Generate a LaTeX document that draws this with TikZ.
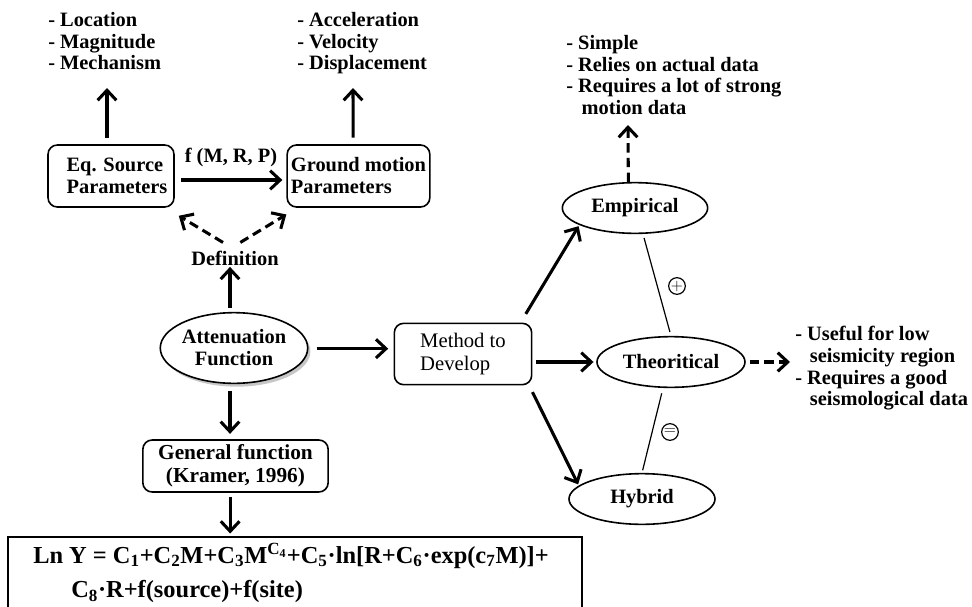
\documentclass[tikz,border=0pt]{standalone}
\usepackage{fontspec}
\setmainfont{Liberation Serif}
\usetikzlibrary{arrows.meta,shapes.geometric,shadows}
\begin{document}
\begin{tikzpicture}[x=0.75pt,y=-0.75pt,
  lbl/.style={font=\bfseries\fontsize{15.3}{16.3}\selectfont, align=left, inner sep=0pt},
  rbox/.style={draw, line width=1.2pt, rounded corners=7pt, inner sep=0pt, align=left},
  ell/.style={ellipse, draw, line width=1.2pt, inner sep=0pt, align=center, font=\bfseries\fontsize{15.3}{16.5}\selectfont},
  arr/.style={line width=2.3pt, -{Straight Barb[length=7.5pt,width=14pt,line width=2.3pt]}},
  darr/.style={arr, dash pattern=on 7pt off 4pt},
  thinl/.style={line width=0.9pt},
  sym/.style={circle, draw, line width=0.9pt, inner sep=0pt, minimum size=12.5pt, font=\fontsize{12}{12}\selectfont}]
\useasboundingbox (0,0) rectangle (972,607);
\fill[white] (0,0) rectangle (972,607);

% top lists
\node[lbl, anchor=north west] (lst1) at (48,12) {- Location\\- Magnitude\\- Mechanism};
\node[lbl, anchor=north west] (lst2) at (297,12) {- Acceleration\\- Velocity\\- Displacement};
\node[lbl, anchor=north west] (lst3) at (566,35) {- Simple\\- Relies on actual data\\- Requires a lot of strong\\\hspace*{11.5pt}motion data};
\node[lbl, anchor=north west] (lst4) at (795,326) {- Useful for low\\\hspace*{11pt}seismicity region\\- Requires a good\\\hspace*{11pt}seismological data};

% boxes
\node[rbox, minimum width=94.5pt, minimum height=46.5pt, font=\bfseries\fontsize{15.3}{16.5}\selectfont] (eq) at (111,176) {\hspace*{9pt}Eq. Source\\\hspace*{9pt}Parameters};
\node[rbox, minimum width=107pt, minimum height=46.5pt, font=\bfseries\fontsize{15.3}{16.5}\selectfont] (gm) at (358.5,176) {Ground motion\\Parameters};
\node[lbl] (fmrp) at (231,157) {f (M, R, P)};
\node[lbl] (def) at (235,258) {Definition};

\node[ell, minimum width=109pt, minimum height=53pt, fill=white, drop shadow={fill=gray!55, shadow xshift=2pt, shadow yshift=-2.5pt, opacity=0.8}] (att) at (234,348) {Attenuation\\Function};
\node[rbox, minimum width=103pt, minimum height=46pt, font=\fontsize{15.5}{17}\selectfont] (meth) at (463,354) {Method to\\Develop};
\node[rbox, minimum width=139pt, minimum height=39pt, align=center, font=\bfseries\fontsize{16}{17}\selectfont] (gen) at (235.5,466) {General function\\(Kramer, 1996)};

\node[ell, minimum width=109pt, minimum height=38pt] (emp) at (635,208) {Empirical};
\node[ell, minimum width=111pt, minimum height=38pt] (theo) at (671,362) {Theoritical};
\node[ell, minimum width=109.5pt, minimum height=38pt] (hyb) at (642,499) {Hybrid};

% formula box
\node[draw, line width=1.2pt, minimum width=430.5pt, minimum height=66pt, inner sep=0pt] (fbox) at (295,581) {};
\node[anchor=west, inner sep=0pt, font=\bfseries\fontsize{18.3}{20}\selectfont] (f1) at (33,556)
  {Ln Y = C\textsubscript{1}+C\textsubscript{2}M+C\textsubscript{3}M\textsuperscript{C\textsubscript{4}}+C\textsubscript{5}·ln[R+C\textsubscript{6}·exp(c\textsubscript{7}M)]+};
\node[anchor=west, inner sep=0pt, font=\bfseries\fontsize{18.3}{20}\selectfont] (f2) at (71,592)
  {C\textsubscript{8}·R+f(source)+f(site)};

% named free ends
\coordinate (eqt) at (107,88);
\coordinate (gmt) at (353,88);
\coordinate (empt) at (628,125);
\coordinate (theot) at (790,362);

% connectors
\draw[arr, shorten <=5pt] ([xshift=-3pt]eq.north) -- (eqt);
\draw[arr, shorten <=5pt] ([xshift=-4pt]gm.north) -- (gmt);
\draw[arr, shorten <=5pt, shorten >=3pt] ([yshift=-3pt]eq.east) -- ([yshift=-3pt]gm.west);
\draw[darr] ([xshift=-9pt,yshift=6pt]def.north) -- ([xshift=3pt,yshift=-6pt]eq.south east);
\draw[darr] ([xshift=4pt,yshift=6pt]def.north) -- ([yshift=-5pt]gm.south west);
\draw[arr, shorten <=3pt, shorten >=1pt] ([xshift=-3pt]att.north) -- ([xshift=-3pt]att.north |- def.south);
\draw[arr, shorten <=6pt, shorten >=4pt] ([yshift=-0.5pt]att.east) -- ([yshift=-0.5pt]att.east -| meth.west);
\draw[arr, shorten <=5pt, shorten >=4pt] ([xshift=-3pt]att.south) -- ([xshift=-3pt]att.south |- gen.north);
\draw[arr, shorten <=3pt, shorten >=2pt] ([xshift=-4pt]gen.south) -- ([xshift=-4pt]gen.south |- fbox.north);
\draw[arr, shorten <=3pt, shorten >=2pt] (meth.east |- theo.west) -- (theo.west);
\draw[arr, shorten >=1pt] ([xshift=-5pt,yshift=6.5pt]meth.north east) -- (emp.197);
\draw[arr, shorten >=1pt] ([xshift=0pt,yshift=-5pt]meth.south east) -- (hyb.168);
\draw[darr] ([xshift=-5pt]emp.north) -- (empt);
\draw[darr, shorten <=3pt] (theo.east) -- (theot);
\draw[thinl, shorten <=3pt, shorten >=3pt] ([xshift=6pt]emp.south) -- (theo.north);
\draw[thinl, shorten <=4pt, shorten >=2pt] ([xshift=-6pt]theo.south) -- (hyb.north);
\node[sym] (plus) at (677,286) {$+$};
\node[sym] (eqs) at (670,432) {$=$};
\end{tikzpicture}
\end{document}
